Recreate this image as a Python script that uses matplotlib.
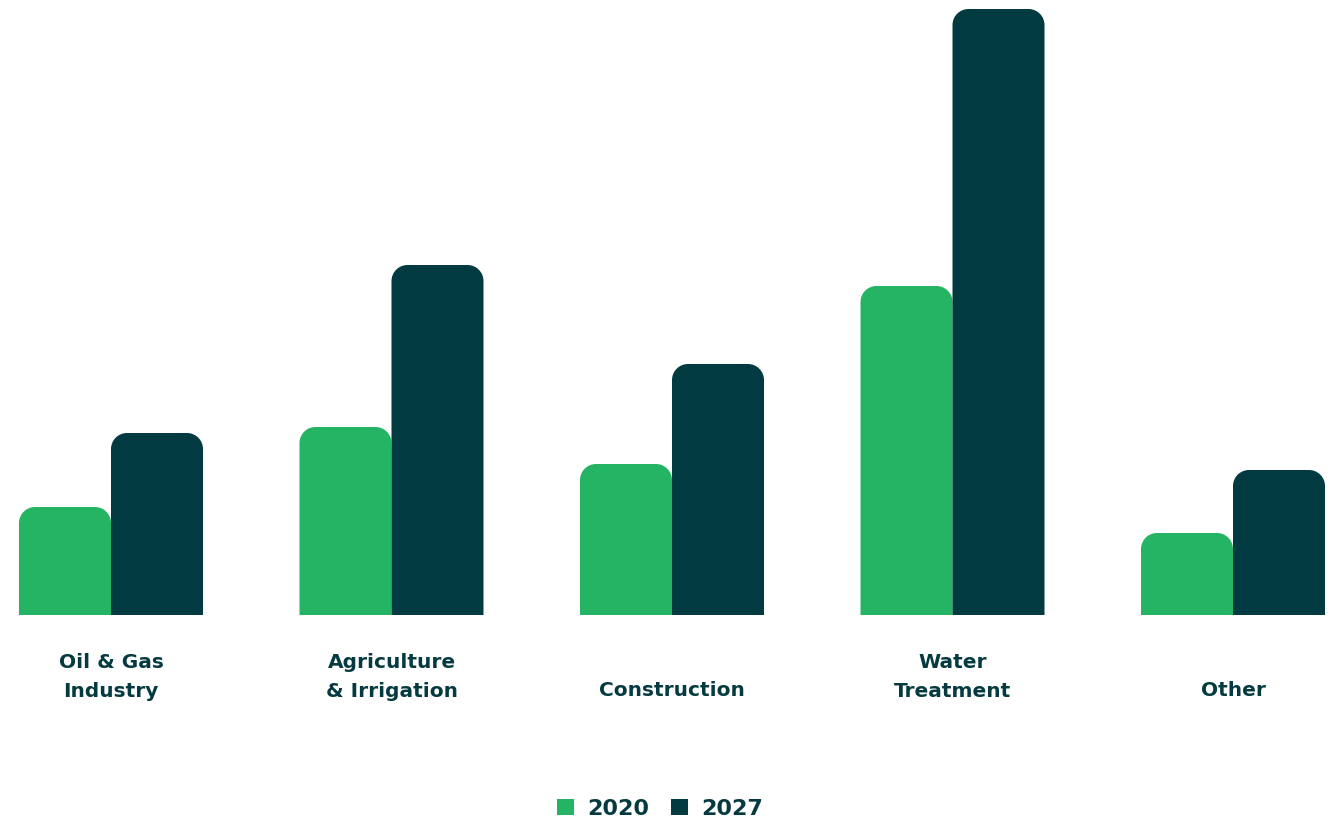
import matplotlib
matplotlib.use("Agg")
import matplotlib.pyplot as plt
from matplotlib.path import Path
from matplotlib.patches import PathPatch, Patch

categories = ["Oil & Gas\nIndustry", "Agriculture\n& Irrigation", "Construction", "Water\nTreatment", "Other"]
series_names = ["2020", "2027"]
values_2020 = [108, 188, 151, 329, 82]
values_2027 = [182, 350, 251, 606, 145]

green = "#25b463"
dark = "#023a41"
text_color = "#053b40"

W, H = 1330, 819
fig = plt.figure(figsize=(W / 100, H / 100), dpi=100)
base_px = 615
ax = fig.add_axes([0, (H - base_px) / H, 1, base_px / H])
spacing = 280.5
x0 = 111
ax.set_xlim(-x0 / spacing, (W - x0) / spacing)
ax.set_ylim(0, base_px)
ax.axis("off")

bw = 92 / spacing
r_px = 16
rx = r_px / spacing
ry = r_px


def rounded_top(x_left, width, height):
    k = 0.5523
    verts = [
        (x_left, 0),
        (x_left, height - ry),
        (x_left, height - ry + k * ry), (x_left + rx - k * rx, height), (x_left + rx, height),
        (x_left + width - rx, height),
        (x_left + width - rx + k * rx, height), (x_left + width, height - ry + k * ry), (x_left + width, height - ry),
        (x_left + width, 0),
        (x_left, 0),
    ]
    codes = [Path.MOVETO, Path.LINETO,
             Path.CURVE4, Path.CURVE4, Path.CURVE4,
             Path.LINETO,
             Path.CURVE4, Path.CURVE4, Path.CURVE4,
             Path.LINETO, Path.CLOSEPOLY]
    return Path(verts, codes)


xs = list(range(len(categories)))
for vals, col, off in [(values_2020, green, -bw / 2), (values_2027, dark, bw / 2)]:
    bars = ax.bar([x + off for x in xs], vals, width=bw, color=col, alpha=0)
    for b in bars:
        p = rounded_top(b.get_x(), b.get_width(), b.get_height())
        ax.add_patch(PathPatch(p, facecolor=col, edgecolor="none", lw=0))

for x, lab in zip(xs, categories):
    y = -62 if "\n" in lab else -76
    ax.text(x, y, lab, ha="center", va="center", fontsize=14.5, fontweight="bold",
            color=text_color, linespacing=1.7, clip_on=False)

handles = [Patch(facecolor=green, edgecolor="none"), Patch(facecolor=dark, edgecolor="none")]
leg = fig.legend(handles, series_names, loc="center", bbox_to_anchor=(660 / W, 1 - 809 / H),
                 ncol=2, frameon=False, handlelength=0.75, handleheight=0.75,
                 handletextpad=0.6, columnspacing=1.0,
                 prop={"weight": "bold", "size": 16})
for t in leg.get_texts():
    t.set_color(text_color)

fig.savefig("out.png", dpi=100)
